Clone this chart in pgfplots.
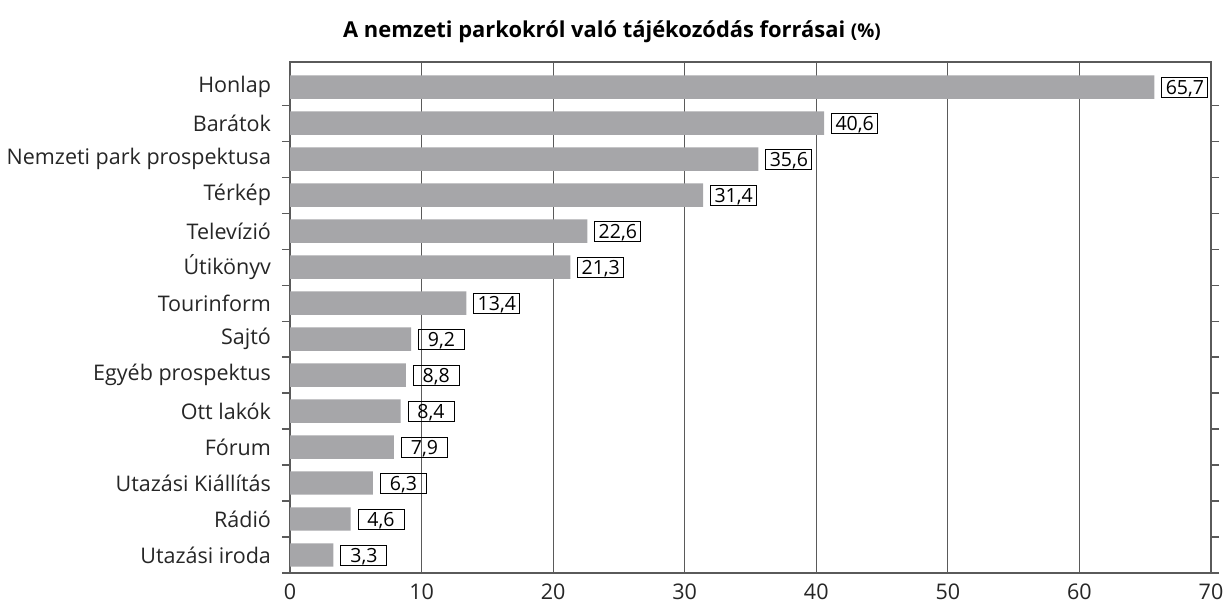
\documentclass[border=0pt]{standalone}
\usepackage{pgfplots}
\pgfplotsset{compat=1.18}
\usepackage{fontspec}
\setmainfont{Open Sans}
\definecolor{bargray}{RGB}{166,166,169}
\definecolor{gridgray}{RGB}{90,90,90}
\begin{document}
\begin{tikzpicture}
\path[use as bounding box] (0,0) rectangle (611.5bp,303bp);
\node[font=\bfseries\fontsize{11}{12}\selectfont] at (306bp,287bp) {A nemzeti parkokról való tájékozódás forrásai {\fontsize{9.5}{10}\selectfont(\%)}};
\begin{axis}[
  at={(145bp,16.5bp)}, anchor=south west,
  scale only axis, width=460.5bp, height=255.5bp,
  xbar, bar width=0.65,
  xmin=0, xmax=70, xtick={0,10,...,70},
  ymin=-0.7, ymax=13.5, y dir=reverse,
  ytick={0,...,13},
  yticklabels={Honlap,Barátok,Nemzeti park prospektusa,Térkép,Televízió,Útikönyv,Tourinform,Sajtó,Egyéb prospektus,Ott lakók,Fórum,Utazási Kiállítás,Rádió,Utazási iroda},
  minor ytick={0.5,1.5,...,12.5,13.5},
  major tick length=0pt, minor tick length=4bp, tick align=outside,
  tick style={gridgray, line width=0.6bp},
  xmajorgrids, grid style={gridgray, line width=0.6bp},
  axis line style={gridgray, line width=0.7bp},
  yticklabel style={font=\fontsize{10.8}{11}\selectfont, xshift=-6bp, text=black!85},
  xticklabel style={font=\fontsize{10.8}{12}\selectfont, yshift=-2bp, text=black!85},
  /pgf/number format/assume math mode=true,
  nodes near coords={\pgfmathprintnumber[fixed,precision=1,fixed zerofill,use comma]{\pgfplotspointmeta}},
  nodes near coords style={anchor=west, xshift=3.5bp, draw=black, line width=0.5bp, minimum width=23bp, minimum height=10bp, inner sep=0pt, text depth=0pt, font=\fontsize{9.8}{11}\selectfont, /pgf/number format/assume math mode=true},
  point meta=explicit,
]
\addplot[fill=bargray, draw=none] table[meta=x] {
x y
65.7 0
40.6 1
35.6 2
31.4 3
22.6 4
21.3 5
13.4 6
9.2 7
8.8 8
8.4 9
7.9 10
6.3 11
4.6 12
3.3 13
};
\end{axis}
\end{tikzpicture}
\end{document}
